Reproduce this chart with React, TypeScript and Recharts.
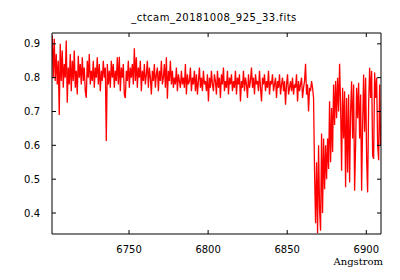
import { LineChart, Line, XAxis, YAxis } from 'recharts';

// spectrum sampled roughly one point per screen pixel
const START_WAVELENGTH = 6701.45;
const STEP = 0.633;

const flux = [
  0.925, 0.8, 0.915, 0.79, 0.87, 0.78, 0.85, 0.69, 0.9, 0.79, 0.88, 0.77, 0.84, 0.8, 0.91, 0.726, 0.83, 0.78, 0.87, 0.76,
  0.85, 0.79, 0.88, 0.77, 0.82, 0.75, 0.865, 0.8, 0.84, 0.78, 0.86, 0.79, 0.83, 0.76, 0.74, 0.85, 0.8, 0.87, 0.78, 0.82,
  0.79, 0.85, 0.77, 0.83, 0.8, 0.86, 0.78, 0.84, 0.76, 0.82, 0.79, 0.85, 0.8, 0.83, 0.613, 0.84, 0.78, 0.82, 0.77, 0.85,
  0.8, 0.84, 0.77, 0.82, 0.79, 0.86, 0.78, 0.862, 0.76, 0.83, 0.8, 0.84, 0.75, 0.74, 0.82, 0.79, 0.85, 0.77, 0.83, 0.8,
  0.84, 0.78, 0.887, 0.79, 0.86, 0.77, 0.83, 0.8, 0.85, 0.76, 0.82, 0.79, 0.84, 0.78, 0.81, 0.85, 0.77, 0.83, 0.8, 0.75,
  0.82, 0.79, 0.84, 0.77, 0.81, 0.83, 0.76, 0.82, 0.79, 0.85, 0.78, 0.8, 0.84, 0.77, 0.86, 0.738, 0.82, 0.79, 0.85, 0.78,
  0.82, 0.77, 0.8, 0.78, 0.83, 0.76, 0.81, 0.79, 0.77, 0.82, 0.78, 0.8, 0.77, 0.84, 0.75, 0.81, 0.78, 0.79, 0.83, 0.76,
  0.8, 0.78, 0.82, 0.76, 0.81, 0.75, 0.79, 0.83, 0.77, 0.8, 0.76, 0.82, 0.78, 0.79, 0.76, 0.81, 0.73, 0.8, 0.77, 0.82,
  0.78, 0.76, 0.81, 0.79, 0.75, 0.82, 0.77, 0.8, 0.74, 0.81, 0.78, 0.83, 0.76, 0.79, 0.77, 0.82, 0.75, 0.8, 0.78, 0.81,
  0.76, 0.79, 0.77, 0.82, 0.75, 0.8, 0.78, 0.81, 0.73, 0.79, 0.77, 0.82, 0.76, 0.8, 0.78, 0.74, 0.81, 0.77, 0.79, 0.83,
  0.77, 0.8, 0.75, 0.81, 0.78, 0.79, 0.76, 0.82, 0.77, 0.73, 0.8, 0.78, 0.81, 0.76, 0.79, 0.77, 0.82, 0.75, 0.79, 0.78,
  0.81, 0.76, 0.78, 0.8, 0.74, 0.79, 0.77, 0.81, 0.75, 0.78, 0.8, 0.76, 0.79, 0.72, 0.78, 0.81, 0.75, 0.77, 0.79, 0.76,
  0.8, 0.75, 0.78, 0.77, 0.81, 0.73, 0.79, 0.76, 0.78, 0.8, 0.74, 0.77, 0.79, 0.841, 0.75, 0.78, 0.7, 0.77, 0.76, 0.79,
  0.77, 0.74, 0.52, 0.37, 0.55, 0.34, 0.6, 0.41, 0.348, 0.635, 0.4, 0.62, 0.47, 0.6, 0.5, 0.62, 0.53, 0.73, 0.55, 0.71,
  0.58, 0.78, 0.66, 0.79, 0.68, 0.8, 0.7, 0.841, 0.72, 0.525, 0.77, 0.62, 0.76, 0.476, 0.74, 0.52, 0.75, 0.49, 0.7, 0.789,
  0.62, 0.78, 0.466, 0.6, 0.77, 0.68, 0.785, 0.62, 0.75, 0.466, 0.66, 0.809, 0.64, 0.8, 0.56, 0.461, 0.72, 0.829, 0.74, 0.82,
  0.57, 0.56, 0.815, 0.74, 0.8, 0.6, 0.556, 0.78, 0.6,
];

const xTicks = [6750, 6800, 6850, 6900];
const yTicks = [0.4, 0.5, 0.6, 0.7, 0.8, 0.9];
const xDomain = [6701.3, 6909.3];
const yDomain = [0.338, 0.932];

const data = flux.map((f, i) => ({ wavelength: START_WAVELENGTH + i * STEP, flux: f }));

const TICK_LEN = 4;
const FONT = '"DejaVu Sans", sans-serif';

const BottomTick = ({ x, y, payload }: any) => (
  <g>
    <line x1={x} x2={x} y1={y} y2={y - TICK_LEN} stroke="#000" />
    <text x={x} y={y + 18.5} textAnchor="middle" fontSize={10} fontFamily={FONT} fill="#000">
      {payload.value}
    </text>
  </g>
);

const TopTick = ({ x, y }: any) => (
  <line x1={x} x2={x} y1={y} y2={y + TICK_LEN} stroke="#000" />
);

const LeftTick = ({ x, y, payload }: any) => (
  <g>
    <line x1={x} x2={x + TICK_LEN} y1={y} y2={y} stroke="#000" />
    <text x={x - 12} y={y + 3.6} textAnchor="end" fontSize={10} fontFamily={FONT} fill="#000">
      {payload.value.toFixed(1)}
    </text>
  </g>
);

const RightTick = ({ x, y }: any) => (
  <line x1={x} x2={x - TICK_LEN} y1={y} y2={y} stroke="#000" />
);

export default function App() {
  return (
    <div style={{ position: 'absolute', left: 0, top: 0, width: 400, height: 280, background: '#fff' }}>
      <div
        style={{
          position: 'absolute',
          left: 0,
          width: 428,
          top: 12,
          textAlign: 'center',
          fontFamily: FONT,
          fontSize: 10,
          letterSpacing: 0.5,
          lineHeight: '12px',
        }}
      >
        _ctcam_20181008_925_33.fits
      </div>
      <LineChart width={400} height={280} data={data} margin={{ top: 0, right: 0, bottom: 0, left: 0 }}>
        <XAxis
          xAxisId="main"
          dataKey="wavelength"
          type="number"
          domain={xDomain}
          ticks={xTicks}
          allowDataOverflow
          interval={0}
          height={46}
          tickSize={0}
          tickMargin={0}
          tickLine={false}
          axisLine={{ stroke: '#000' }}
          tick={<BottomTick />}
        />
        <XAxis
          xAxisId="top"
          orientation="top"
          dataKey="wavelength"
          type="number"
          domain={xDomain}
          ticks={xTicks}
          allowDataOverflow
          interval={0}
          height={33}
          tickSize={0}
          tickMargin={0}
          tickLine={false}
          axisLine={{ stroke: '#000' }}
          tick={<TopTick />}
        />
        <YAxis
          yAxisId="main"
          type="number"
          domain={yDomain}
          ticks={yTicks}
          allowDataOverflow
          interval={0}
          width={52}
          tickSize={0}
          tickMargin={0}
          tickLine={false}
          axisLine={{ stroke: '#000' }}
          tick={<LeftTick />}
        />
        <YAxis
          yAxisId="right"
          orientation="right"
          type="number"
          domain={yDomain}
          ticks={yTicks}
          allowDataOverflow
          interval={0}
          width={19}
          tickSize={0}
          tickMargin={0}
          tickLine={false}
          axisLine={{ stroke: '#000' }}
          tick={<RightTick />}
        />
        <Line
          xAxisId="main"
          yAxisId="main"
          type="linear"
          dataKey="flux"
          stroke="#ff0000"
          strokeWidth={1.3}
          dot={false}
          isAnimationActive={false}
        />
      </LineChart>
      <div
        style={{
          position: 'absolute',
          right: 17,
          top: 256,
          fontFamily: '"DejaVu Serif", serif',
          fontSize: 10,
          lineHeight: '12px',
        }}
      >
        Angstrom
      </div>
    </div>
  );
}
